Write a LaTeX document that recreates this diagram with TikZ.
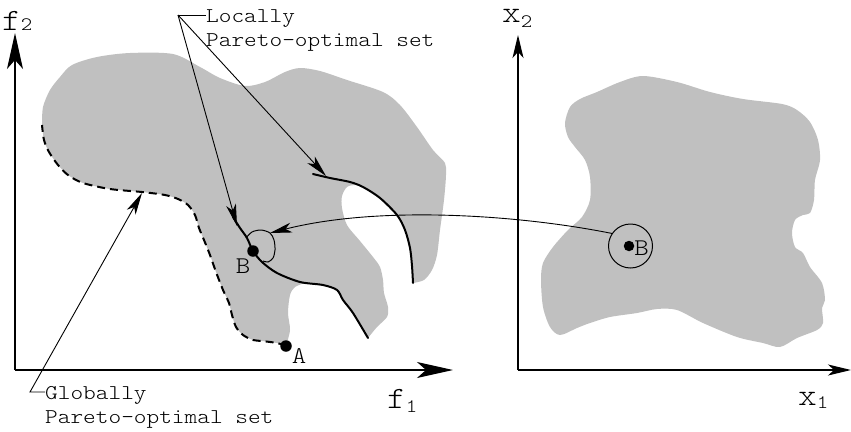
\documentclass[tikz,border=0pt]{standalone}
\usepackage{fontspec}
\newfontfamily\monof[FakeStretch=1.15]{lmmonolt10-regular.otf}
\usetikzlibrary{arrows.meta}
\definecolor{regiongray}{RGB}{192,192,192}
\tikzset{
  txt/.style={font=\monof\fontsize{21}{24}\selectfont, inner sep=0pt},
  ptlbl/.style={font=\monof\fontsize{24}{24}\selectfont, inner sep=0pt},
  axlbl/.style={font=\monof\fontsize{31}{32}\selectfont, inner sep=0pt},
  axisline/.style={line width=1.3pt},
  bigtip/.style={axisline,-{Stealth[length=36pt,width=16pt,inset=9pt]}},
  smalltip/.style={axisline,-{Stealth[length=23pt,width=11pt,inset=6pt]}},
  pointer/.style={line width=0.9pt,-{Stealth[length=22pt,width=10pt,inset=6pt]}},
  curveline/.style={line width=2pt, line cap=round},
  dashline/.style={line width=2pt, dash pattern=on 8pt off 5pt},
  dotnode/.style={circle, fill=black, inner sep=0pt, minimum size=11.5pt},
}
\newcommand\subs[2]{\raisebox{-#1}{\fontsize{19}{19}\selectfont #2}}
\begin{document}
\begin{tikzpicture}[x=1pt,y=-1pt]
\useasboundingbox (0,0) rectangle (851,431);

% ---------- left feasible region (objective space)
\fill[regiongray]
  plot[smooth] coordinates {(42,125) (43,107) (50,90) (60,77) (72,65) (97,57) (130,53) (173,54) (200,67) (220,78) (245,86) (265,82) (285,72) (300,68) (320,71) (347,80) (383,92) (400,105) (417,127) (433,150) (445,163) (446,175) (444,200) (440,230) (437,255) (432,270) (424,280) (413,283)}
  -- plot[smooth] coordinates {(413,283) (412,266) (410,248) (405,230) (397,215) (380,198) (363,187)}
  -- plot[smooth] coordinates {(363,187) (355,185) (347,187) (342,196) (342,208) (347,225) (360,241) (373,257) (380,267) (383,280) (384,293) (388,307) (387,317) (377,327) (368,338)}
  -- plot[smooth] coordinates {(368,338) (353,313) (343,300) (337,290) (323,285) (305,283)}
  -- plot[smooth] coordinates {(305,283) (295,287) (290,295) (288,313) (290,330) (286,346)}
  -- plot[smooth] coordinates {(286,346) (277,343) (262,341) (253,340) (243,335) (236,327) (232,315) (229,303) (223,290) (216,272) (210,255) (204,240) (199,228) (195,215) (188,205) (178,199) (165,195) (142,192) (110,189) (83,183) (68,175) (58,165) (49,152) (44,140) (42,125)}
  -- cycle;

% ---------- right feasible region (decision space)
\fill[regiongray] plot[smooth cycle] coordinates {(565,123) (570,107) (580,99) (597,92) (620,82) (643,76) (677,82) (710,92) (743,99) (782,104) (797,110) (810,122) (818,140) (820,160) (815,180) (814,200) (810,213) (803,215) (795,220) (792,233) (795,247) (803,253) (810,267) (822,283) (825,300) (822,308) (823,323) (817,330) (797,338) (780,347) (763,343) (737,337) (703,323) (677,310) (657,309) (637,313) (610,317) (590,323) (577,328) (560,335) (550,327) (543,307) (541,280) (543,263) (553,247) (568,230) (582,217) (590,200) (590,177) (585,160) (575,147) (568,137)};

% ---------- axes
\coordinate (O1) at (15,370);
\coordinate (f2tip) at (15,33);
\coordinate (f1tip) at (453,370);
\coordinate (O2) at (518,370);
\coordinate (x2tip) at (518,35);
\coordinate (x1tip) at (851,370);
\draw[bigtip] (O1) -- (f2tip);
\draw[bigtip] (O1) -- (f1tip);
\draw[smalltip] (O2) -- (x2tip);
\draw[smalltip] (O2) -- (x1tip);

\node[axlbl, anchor=base west] (f2lab) at (2,30) {f\subs{1pt}{2}};
\node[axlbl, anchor=base west] (f1lab) at (387,408) {f\subs{4pt}{1}};
\node[axlbl, anchor=base west] (x2lab) at (502,23) {x\subs{5pt}{2}};
\node[axlbl, anchor=base west] (x1lab) at (798,405) {x\subs{3pt}{1}};

% ---------- Pareto-optimal sets
\draw[curveline] plot[smooth] coordinates {(233,217) (240,228) (247,238) (253,251) (262,262) (277,273) (300,282) (323,285) (337,290) (343,300) (353,313) (368,338)};
\draw[curveline] plot[smooth] coordinates {(313,174) (330,178) (350,182) (363,187) (380,198) (397,215) (405,230) (410,248) (412,266) (413,283)};
\draw[dashline] plot[smooth] coordinates {(286,346) (277,343) (262,341) (253,340) (243,335) (236,327) (232,315) (229,303) (223,290) (216,272) (210,255) (204,240) (199,228) (195,215) (188,205) (178,199) (165,195) (142,192) (110,189) (83,183) (68,175) (58,165) (49,152) (44,140) (42,125)};

% neighbourhood of B in objective space
\draw[line width=1pt] plot[smooth] coordinates {(246,238) (252,232) (261,230) (270,233) (274,240) (275,250) (273,258) (268,262) (263,261)};

% ---------- points
\node[dotnode] (A) at (286,346) {};
\node[ptlbl, anchor=base] (Alab) at (299,363) {A};
\node[dotnode] (B) at (253,251) {};
\node[ptlbl, anchor=base] (Blab) at (243,273) {B};
\node[draw, circle, line width=1pt, minimum size=44pt, inner sep=0pt] (nbhd) at (630.5,246) {};
\node[dotnode, minimum size=10.5pt] (B2) at (629,246) {};
\node[ptlbl, anchor=base] (B2lab) at (641.5,255) {B};

% mapping arrow
\coordinate (tipL) at (270,233);
\draw[pointer] (nbhd.146) .. controls (520,215) and (380,205) .. (tipL);

% ---------- annotations
\node[txt, anchor=base west] (loc1) at (206,22) {Locally};
\node[txt, anchor=base west] (loc2) at (206,46) {Pareto-optimal set};
\coordinate (locK) at (178,15);
\coordinate (tipA) at (237,226);
\coordinate (tipB) at (326,176);
\draw[line width=0.9pt] (locK) -- (loc1.west |- locK);
\draw[pointer] (locK) -- (tipA);
\draw[pointer] (locK) -- (tipB);

\node[txt, anchor=base west] (glob1) at (45,399) {Globally};
\node[txt, anchor=base west] (glob2) at (45,423) {Pareto-optimal set};
\coordinate (globK) at (30,392);
\coordinate (tipG) at (142,193);
\draw[pointer] (glob1.west |- globK) -- (globK) -- (tipG);
\end{tikzpicture}
\end{document}
